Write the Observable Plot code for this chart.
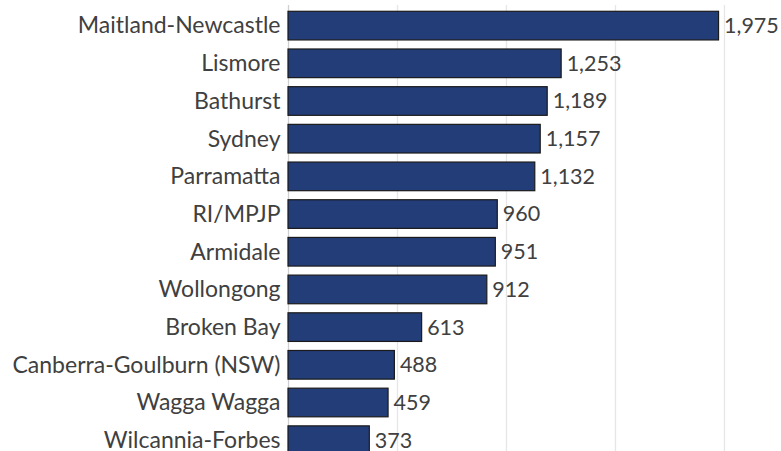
<!DOCTYPE html>
<html>
<head>
<meta charset="utf-8">
<script src="https://cdn.jsdelivr.net/npm/d3@7"></script>
<script src="https://cdn.jsdelivr.net/npm/@observablehq/plot@0.6"></script>
<style>
  body { margin: 0; background: #fff; }
  #chart svg { display: block; }
</style>
</head>
<body>
<div id="chart"></div>
<script>
const dioceses = ["Maitland-Newcastle", "Lismore", "Bathurst", "Sydney", "Parramatta", "RI/MPJP", "Armidale", "Wollongong", "Broken Bay", "Canberra-Goulburn (NSW)", "Wagga Wagga", "Wilcannia-Forbes"];
const counts = [1975, 1253, 1189, 1157, 1132, 960, 951, 912, 613, 488, 459, 373];
const gridTicks = [500, 1000, 1500, 2000];

const data = dioceses.map((d, i) => ({ name: d, value: counts[i] }));
const fmt = d3.format(",");

const chart = Plot.plot({
  width: 781,
  height: 451,
  marginLeft: 288,
  marginRight: 57,
  marginTop: 5,
  marginBottom: 0,
  style: { fontFamily: "Lato, 'Open Sans', sans-serif", fontSize: "23px", color: "#404040", background: "#fff" },
  x: { domain: [0, 2000], axis: null },
  y: { domain: dioceses, range: [11.3, 454.5], paddingInner: 0.24, paddingOuter: 0, round: false, label: null },
  marks: [
    Plot.ruleX(gridTicks, { stroke: "#e6e6e6", strokeWidth: 1.3, strokeOpacity: 1 }),
    Plot.ruleX([0], { stroke: "#d0d0d0", strokeWidth: 1.3 }),
    Plot.barX(data, { x: "value", y: "name", fill: "#233d79", stroke: "#1a1a1a", strokeWidth: 1.2 }),
    Plot.text(data, { x: "value", y: "name", text: d => fmt(d.value), textAnchor: "start", dx: 5, fill: "#404040", fontSize: 21.5 }),
    Plot.axisY({ tickSize: 0, tickPadding: 8, fontSize: 23, fill: "#404040", label: null })
  ]
});
document.getElementById("chart").append(chart);
</script>
</body>
</html>
